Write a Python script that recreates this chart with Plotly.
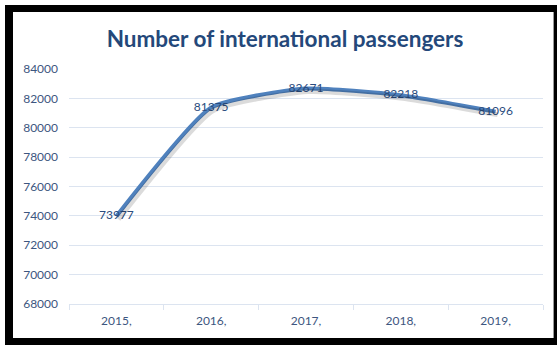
import plotly.graph_objects as go

# Data
years = ["2015,", "2016,", "2017,", "2018,", "2019,"]
passengers = [73977, 81375, 82671, 82218, 81096]
y_ticks = [68000, 70000, 72000, 74000, 76000, 78000, 80000, 82000, 84000]

W, H = 557, 345
L, R, T, B = 69, 14, 69, 41          # plot-area margins in px
PW, PH = W - L - R, H - T - B
Y0, Y1 = 68000, 84000


def px_x(px):
    return (px - L) / PW


def px_y(py):
    return (H - B - py) / PH


font = "Lato, 'Open Sans', sans-serif"
line_color = "#4F81BD"
label_color = "#2B4C7E"
axis_text = "#3D5680"
grid_color = "#DCE4F0"
smooth = 0.5

fig = go.Figure()

# soft drop shadow under the line (same data, axes nudged a few px)
dx, dy = 2, 3
sx = dx / (PW / 5)
sy = dy / PH * (Y1 - Y0)
fig.add_trace(go.Scatter(
    x=years, y=passengers, mode="lines",
    line=dict(color="rgba(0,0,0,0.14)", width=5, shape="spline", smoothing=smooth),
    xaxis="x2", yaxis="y2", hoverinfo="skip", showlegend=False,
))

fig.add_trace(go.Scatter(
    x=years, y=passengers, mode="lines+text",
    line=dict(color=line_color, width=4, shape="spline", smoothing=smooth),
    text=[str(v) for v in passengers], textposition="middle center",
    textfont=dict(family=font, size=12, color=label_color),
    showlegend=False,
))

# framed background: black border around a white panel
shapes = [
    dict(type="rect", xref="paper", yref="paper",
         x0=px_x(5), x1=px_x(W + 5), y0=px_y(H + 5), y1=px_y(5),
         fillcolor="black", line=dict(width=0), layer="below"),
    dict(type="rect", xref="paper", yref="paper",
         x0=px_x(13), x1=px_x(553), y0=px_y(338), y1=px_y(12),
         fillcolor="white", line=dict(width=0), layer="below"),
    dict(type="line", xref="paper", yref="paper",
         x0=px_x(553.5), x1=px_x(553.5), y0=px_y(338), y1=px_y(12),
         line=dict(color="#9A9A9A", width=1), layer="below"),
]

fig.update_layout(
    width=W, height=H,
    margin=dict(l=L, r=R, t=T, b=B),
    paper_bgcolor="white",
    plot_bgcolor="rgba(0,0,0,0)",
    shapes=shapes,
    title=dict(
        text="<b>Number of international passengers</b>",
        font=dict(family=font, size=22.5, color="#24487A"),
        x=285 / W, xanchor="center", xref="container",
        y=1 - 39 / H, yanchor="middle", yref="container",
    ),
    xaxis=dict(
        type="category", range=[-0.5, 4.5],
        showgrid=False, showline=True, linecolor=grid_color, linewidth=1,
        ticks="outside", tickson="boundaries", ticklen=5, tickcolor=grid_color,
        tickfont=dict(family=font, size=12, color=axis_text),
        ticklabelstandoff=6, zeroline=False, fixedrange=True,
    ),
    yaxis=dict(
        range=[Y0, Y1], tickvals=y_ticks, ticktext=[str(v) for v in y_ticks],
        showgrid=True, gridcolor=grid_color, gridwidth=1,
        showline=False, zeroline=False, ticks="",
        tickfont=dict(family=font, size=12, color=axis_text),
        ticklabelstandoff=10, fixedrange=True,
    ),
    xaxis2=dict(
        type="category", overlaying="x", range=[-0.5 - sx, 4.5 - sx],
        visible=False, fixedrange=True,
    ),
    yaxis2=dict(
        overlaying="y", range=[Y0 + sy, Y1 + sy],
        visible=False, fixedrange=True,
    ),
)

fig.write_html("out.html")
